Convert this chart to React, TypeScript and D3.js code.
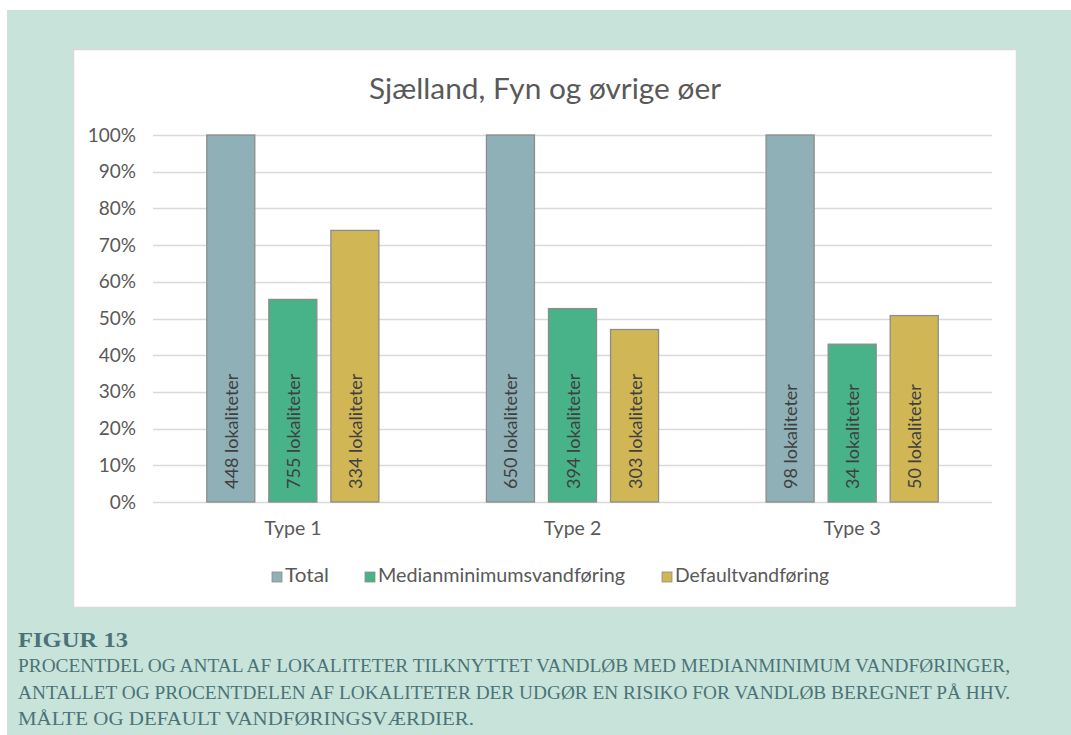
import React, { useEffect, useRef } from 'react'
import * as d3 from 'd3'

const categories = ['Type 1', 'Type 2', 'Type 3']
const seriesNames = ['Total', 'Medianminimumsvandføring', 'Defaultvandføring']
const seriesColors = ['#8fb0b6', '#48b289', '#d1b656']
const totalValues = [100, 100, 100]
const medianValues = [55.2, 52.7, 43]
const defaultValues = [74, 47, 50.8]
const totalCounts = [448, 650, 98]
const medianCounts = [755, 394, 34]
const defaultCounts = [334, 303, 50]
const yTicks = [0, 10, 20, 30, 40, 50, 60, 70, 80, 90, 100]
const chartTitle = 'Sjælland, Fyn og øvrige øer'
const captionHead = 'FIGUR 13'
const captionLines = [
  'PROCENTDEL OG ANTAL AF LOKALITETER TILKNYTTET VANDLØB MED MEDIANMINIMUM VANDFØRINGER,',
  'ANTALLET OG PROCENTDELEN AF LOKALITETER DER UDGØR EN RISIKO FOR VANDLØB BEREGNET PÅ HHV.',
  'MÅLTE OG DEFAULT VANDFØRINGSVÆRDIER.',
]
const captionWidths = [992, 992, 456]
const legendWidths = [44, 247, 154]

const font = 'Lato, "Open Sans", sans-serif'
const textColor = '#595959'

function App() {
  const ref = useRef<SVGSVGElement>(null)

  useEffect(() => {
    const svg = d3.select(ref.current)
    svg.selectAll('*').remove()

    // backgrounds
    svg.append('rect').attr('x', 7).attr('y', 10).attr('width', 1064).attr('height', 725).attr('fill', '#c8e3da')
    svg.append('rect').attr('x', 73.5).attr('y', 49.5).attr('width', 943).attr('height', 558)
      .attr('fill', '#fff').attr('stroke', '#d9d9d9').attr('stroke-width', 1.5)

    svg.append('text').attr('x', 545).attr('y', 99).attr('text-anchor', 'middle')
      .attr('font-family', font).attr('font-size', 29).attr('fill', textColor)
      .attr('textLength', 352).attr('lengthAdjust', 'spacingAndGlyphs').text(chartTitle)

    const x0 = d3.scaleBand<string>().domain(categories).range([153, 992])
      .paddingInner(0.381).paddingOuter(0.1905)
    const x1 = d3.scaleBand<string>().domain(seriesNames).range([0, x0.bandwidth()])
      .paddingInner(0.21).paddingOuter(0)
    const y = d3.scaleLinear().domain([0, 100]).range([502, 135])

    const g = svg.append('g')

    // gridlines
    g.selectAll('line.grid').data(yTicks).enter().append('line')
      .attr('x1', 153).attr('x2', 992)
      .attr('y1', d => Math.round(y(d)) + 0.5).attr('y2', d => Math.round(y(d)) + 0.5)
      .attr('stroke', '#d9d9d9').attr('stroke-width', 1.3)

    const yAxis = d3.axisLeft(y).tickValues(yTicks).tickFormat(d => `${d}%`).tickSize(0).tickPadding(17)
    const ya = g.append('g').attr('transform', 'translate(153,0)').call(yAxis)
    ya.select('.domain').remove()
    ya.selectAll('text').attr('font-family', font).attr('font-size', 19).attr('fill', textColor)

    const xAxis = d3.axisBottom(x0).tickSize(0).tickPadding(19)
    const xa = g.append('g').attr('transform', 'translate(0,502)').call(xAxis)
    xa.select('.domain').remove()
    xa.selectAll('text').attr('font-family', font).attr('font-size', 19.5).attr('fill', textColor)

    const valueSets = [totalValues, medianValues, defaultValues]
    const countSets = [totalCounts, medianCounts, defaultCounts]
    const rows = categories.flatMap((c, ci) => seriesNames.map((s, si) => ({
      cat: c, series: s, si, value: valueSets[si][ci], count: countSets[si][ci],
    })))

    const bars = g.selectAll('g.bar').data(rows).enter().append('g')
      .attr('transform', d => `translate(${x0(d.cat)! + x1(d.series)!},0)`)

    bars.append('rect')
      .attr('x', 0.5).attr('y', d => y(d.value))
      .attr('width', x1.bandwidth() - 1).attr('height', d => y(0) - y(d.value))
      .attr('fill', d => seriesColors[d.si]).attr('stroke', '#8c8c8c').attr('stroke-width', 1.3)

    bars.append('text')
      .attr('transform', `translate(${x1.bandwidth() / 2 + 7},${y(0) - 13}) rotate(-90)`)
      .attr('font-family', font).attr('font-size', 18).attr('fill', '#404040')
      .text(d => `${d.count} lokaliteter`)

    // legend
    const legendX = [272, 365, 662]
    const lg = svg.selectAll('g.leg').data(seriesNames).enter().append('g')
      .attr('transform', (d, i) => `translate(${legendX[i]},576)`)
    lg.append('rect').attr('x', 0).attr('y', -4).attr('width', 10).attr('height', 10)
      .attr('fill', (d, i) => seriesColors[i]).attr('stroke', '#8c8c8c').attr('stroke-width', 0.8)
    lg.append('text').attr('x', 13).attr('y', 6).attr('font-family', font).attr('font-size', 20)
      .attr('fill', textColor)
      .attr('textLength', (d, i) => legendWidths[i]).attr('lengthAdjust', 'spacingAndGlyphs')
      .text(d => d)

    // caption
    const capColor = '#4b7377'
    svg.append('text').attr('x', 18).attr('y', 647).attr('font-family', '"Liberation Serif", serif')
      .attr('font-weight', 'bold').attr('font-size', 21).attr('fill', capColor)
      .attr('textLength', 110).attr('lengthAdjust', 'spacingAndGlyphs').text(captionHead)
    svg.selectAll('text.cap').data(captionLines).enter().append('text')
      .attr('x', 18).attr('y', (d, i) => 672 + i * 26.5)
      .attr('font-family', '"Liberation Serif", serif').attr('font-size', 19).attr('fill', capColor)
      .attr('textLength', (d, i) => captionWidths[i]).attr('lengthAdjust', 'spacingAndGlyphs')
      .text(d => d)
  }, [])

  return (
    <svg ref={ref} width={1071} height={735}
      style={{ position: 'absolute', left: 0, top: 0, background: '#fff' }} />
  )
}

export default App
